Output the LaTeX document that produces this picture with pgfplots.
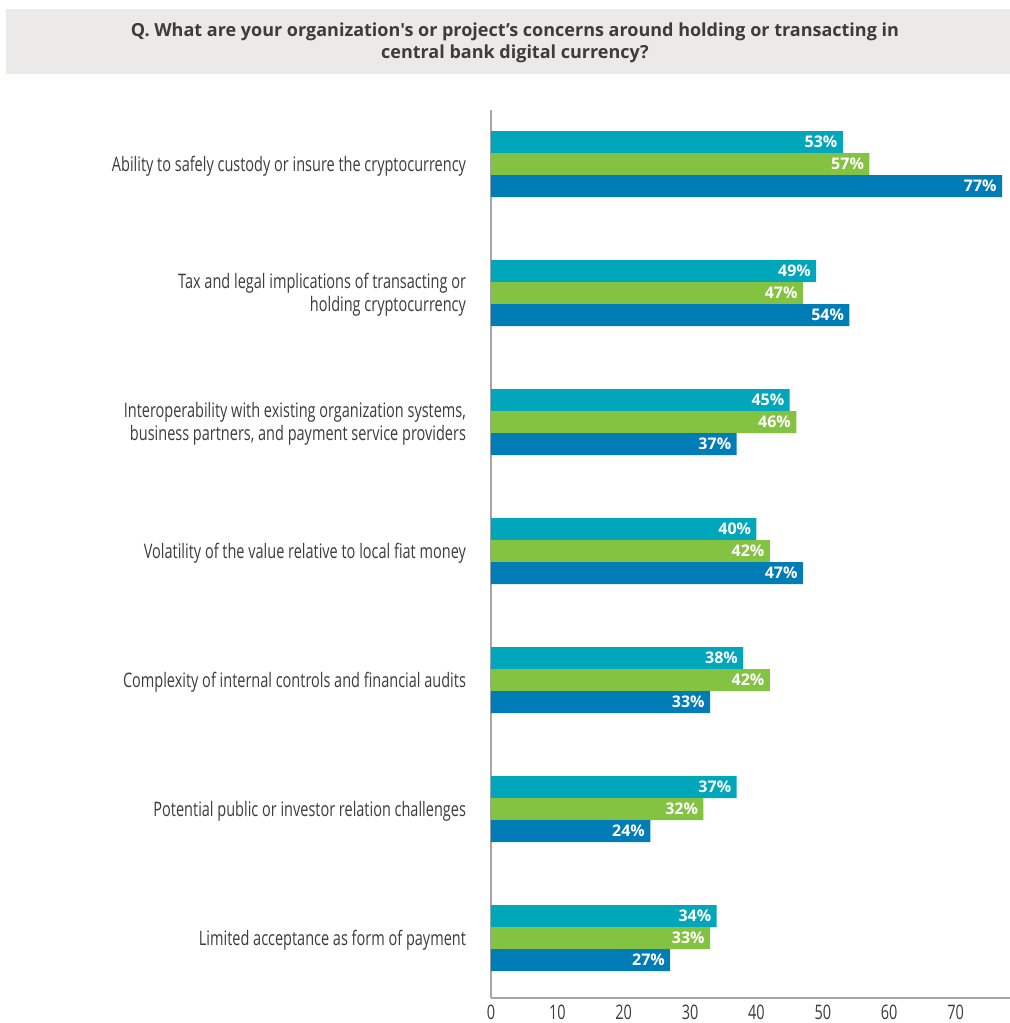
\documentclass[border=0pt]{standalone}
\usepackage{pgfplots}
\pgfplotsset{compat=1.18}
\usepackage{fontspec}
\setmainfont{Open Sans}
\newfontfamily\titlefont[Ligatures=TeXReset]{Open Sans}
\newfontfamily\condfont[FakeStretch=0.725]{Open Sans}
\definecolor{cteal}{HTML}{00A6BA}
\definecolor{cgreen}{HTML}{84C241}
\definecolor{cblue}{HTML}{007CB6}
\definecolor{boxgray}{HTML}{EBEAE8}
\definecolor{axgray}{HTML}{A6A6A6}
\definecolor{txt}{HTML}{3C3C3C}
\begin{document}
\begin{tikzpicture}
\useasboundingbox (0pt,0pt) rectangle (505pt,-511.5pt);
\fill[boxgray] (3pt,-4.5pt) rectangle (505pt,-37pt);
\node[align=center, font=\titlefont\bfseries\fontsize{9}{11}\selectfont, text=txt] at (257.5pt,-21.5pt)
  {Q. What are your organization's or project’s concerns around holding or transacting in\\central bank digital currency?};
\begin{axis}[
  at={(245.5pt,-499pt)}, anchor=south west,
  scale only axis, width=259.5pt, height=444pt,
  xmin=0, xmax=78.2, ymin=-0.465, ymax=6.42,
  xbar, bar width=11pt,
  axis x line=bottom, axis y line=left,
  axis line style={draw=axgray, line width=1pt, -},
  xtick={0,10,...,70}, ytick={0,...,6},
  major tick length=0pt,
  /pgf/number format/assume math mode=true,
  xticklabel style={font=\condfont\fontsize{10}{12}\selectfont, text=txt},
  yticklabel style={font=\condfont\fontsize{10}{11.5}\selectfont, align=right, text=txt, xshift=-9pt, yshift=-1pt},
  yticklabels={
    {Limited acceptance as form of payment},
    {Potential public or investor relation challenges},
    {Complexity of internal controls and financial audits},
    {Volatility of the value relative to local fiat money},
    {Interoperability with existing organization systems,\\business partners, and payment service providers},
    {Tax and legal implications of transacting or\\holding cryptocurrency},
    {Ability to safely custody or insure the cryptocurrency}},
  nodes near coords={\pgfmathprintnumber{\pgfplotspointmeta}\%},
  every node near coord/.append style={anchor=east, text=white, font=\bfseries\fontsize{8}{9}\selectfont, inner sep=2.5pt},
  clip=false,
]
\addplot[fill=cteal, draw=none, bar shift=11pt] coordinates {(34,0) (37,1) (38,2) (40,3) (45,4) (49,5) (53,6)};
\addplot[fill=cgreen, draw=none, bar shift=0pt] coordinates {(33,0) (32,1) (42,2) (42,3) (46,4) (47,5) (57,6)};
\addplot[fill=cblue, draw=none, bar shift=-11pt] coordinates {(27,0) (24,1) (33,2) (47,3) (37,4) (54,5) (77,6)};
\end{axis}
\end{tikzpicture}
\end{document}
